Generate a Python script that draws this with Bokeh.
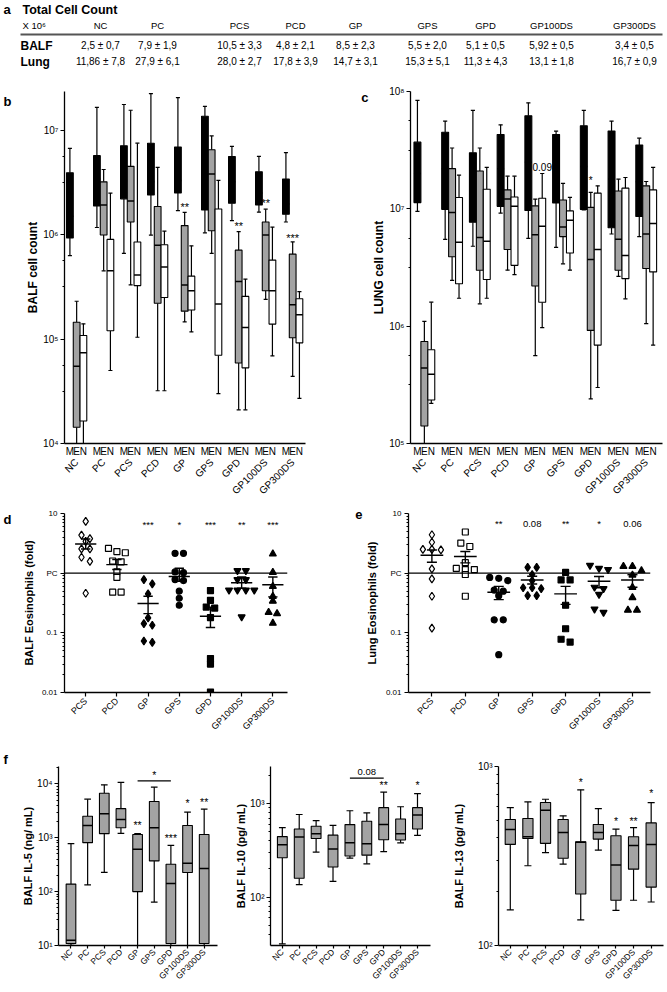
from math import pi, log10
from bokeh.plotting import figure
from bokeh.models import Range1d, FixedTicker, LinearAxis, LogAxis, Span, ColumnDataSource
from bokeh.layouts import column, row
from bokeh.embed import file_html
from bokeh.resources import INLINE
from bokeh.core.properties import value

FONT = "Liberation Sans"
GRAY = "#a3a3a3"

# ---------------- data ----------------
groups = ["NC", "PC", "PCS", "PCD", "GP", "GPS", "GPD", "GP100DS", "GP300DS"]
eos_groups = ["PCS", "PCD", "GP", "GPS", "GPD", "GP100DS", "GP300DS"]

balf_total = ["2,5 ± 0,7", "7,9 ± 1,9", "10,5 ± 3,3", "4,8 ± 2,1", "8,5 ± 2,3",
              "5,5 ± 2,0", "5,1 ± 0,5", "5,92 ± 0,5", "3,4 ± 0,5"]
lung_total = ["11,86 ± 7,8", "27,9 ± 6,1", "28,0 ± 2,7", "17,8 ± 3,9", "14,7 ± 3,1",
              "15,3 ± 5,1", "11,3 ± 4,3", "13,1 ± 1,8", "16,7 ± 0,9"]

# panel b : BALF cell count (M = black, E = gray, N = white)
balf_M_min = [6.3e5, 1.17e6, 6.6e5, 9.9e5, 1.7e6, 1.04e6, 1.36e6, 1.64e6, 1.32e6]
balf_M_q1 = [9.3e5, 1.88e6, 2.2e6, 2.4e6, 2.5e6, 1.72e6, 2.0e6, 1.92e6, 1.57e6]
balf_M_med = [1.5e6, 3.4e6, 3.3e6, 3.2e6, 3.3e6, 3.3e6, 3.2e6, 2.5e6, 1.96e6]
balf_M_q3 = [3.9e6, 5.7e6, 7.1e6, 7.5e6, 6.9e6, 1.36e7, 5.6e6, 4.0e6, 3.4e6]
balf_M_max = [6.7e6, 1.65e7, 1.76e7, 2.24e7, 2.05e7, 1.69e7, 7.0e6, 5.6e6, 6.1e6]

balf_E_min = [1e4, 4.5e5, 3.3e5, 3.2e4, 1.46e5, 6.6e5, 2.1e4, 2.4e5, 4.4e4]
balf_E_q1 = [1.43e4, 9.9e5, 1.32e6, 2.2e5, 1.85e5, 1.09e6, 5.9e4, 2.9e5, 1.03e5]
balf_E_med = [5.5e4, 1.92e6, 2.1e6, 7.9e5, 3.3e5, 3.8e6, 3.55e5, 9.9e5, 2.13e5]
balf_E_q3 = [1.45e5, 3.2e6, 4.5e6, 1.86e6, 1.22e6, 6.5e6, 7.1e5, 1.32e6, 6.5e5]
balf_E_max = [2.3e5, 4.2e6, 1.55e7, 4.4e6, 1.63e6, 8.8e6, 1.07e6, 1.75e6, 8.5e5]

balf_N_min = [1e4, 5.0e4, 1.04e5, 3.2e4, 1.17e5, 3.0e4, 2.1e4, 6.9e4, 2.7e4]
balf_N_q1 = [1.64e4, 1.2e5, 3.25e5, 2.5e5, 1.9e5, 7.0e4, 5.3e4, 1.39e5, 9.2e4]
balf_N_med = [7.4e4, 4.5e5, 4.1e5, 4.9e5, 2.9e5, 2.16e5, 1.29e5, 2.9e5, 1.71e5]
balf_N_q3 = [1.08e5, 9.0e5, 8.5e5, 8.0e5, 4.0e5, 1.76e6, 2.56e5, 5.7e5, 2.43e5]
balf_N_max = [1.4e5, 2.5e6, 7.5e6, 1.08e6, 7.8e5, 3.3e6, 3.75e5, 1.18e6, 2.85e5]

b_star_group = [4, 6, 7, 8]
b_star_text = ["**", "**", "**", "***"]
b_star_y = [1.83e6, 1.2e6, 2.0e6, 9.2e5]

# panel c : LUNG cell count
lung_M_min = [9.5e6, 5.5e6, 4.8e6, 9.2e6, 5.6e6, 4.7e6, 9.8e6, 6.1e6, 5.8e6]
lung_M_q1 = [1.13e7, 9.9e6, 7.7e6, 1.05e7, 9.7e6, 1.12e7, 9.9e6, 6.9e6, 8.6e6]
lung_M_med = [2.0e7, 2.2e7, 1.6e7, 2.2e7, 2.5e7, 2.2e7, 2.3e7, 1.8e7, 1.7e7]
lung_M_q3 = [3.7e7, 4.5e7, 3.0e7, 4.3e7, 6.2e7, 4.3e7, 5.1e7, 4.6e7, 3.5e7]
lung_M_max = [8.4e7, 5.6e7, 6.9e7, 5.2e7, 8.0e7, 4.6e7, 6.9e7, 5.6e7, 4.0e7]

lung_E_min = [1e5, 2.46e6, 1.55e6, 3.0e6, 5.6e5, 3.4e6, 2.4e5, 2.66e6, 1.05e6]
lung_E_q1 = [1.41e5, 3.9e6, 3.0e6, 4.5e6, 2.2e6, 5.8e6, 9.2e5, 3.0e6, 3.1e6]
lung_E_med = [4.4e5, 9.3e6, 5.7e6, 1.21e7, 6.0e6, 7.0e6, 3.7e6, 5.5e6, 6.1e6]
lung_E_q3 = [7.4e5, 2.2e7, 2.1e7, 1.45e7, 1.06e7, 1.19e7, 1.03e7, 1.42e7, 1.57e7]
lung_E_max = [1.1e6, 3.3e7, 3.3e7, 1.9e7, 1.21e7, 1.65e7, 1.38e7, 1.79e7, 1.71e7]

lung_N_min = [2.2e5, 1.73e6, 1.73e6, 2.75e6, 9.7e5, 3.0e6, 3.0e5, 1.71e6, 6.9e5]
lung_N_q1 = [2.35e5, 2.3e6, 2.5e6, 3.3e6, 1.6e6, 4.2e6, 6.9e5, 2.54e6, 2.9e6]
lung_N_med = [3.9e5, 5.2e6, 5.3e6, 1.05e7, 7.1e6, 8.0e6, 4.5e6, 4.0e6, 7.5e6]
lung_N_q3 = [6.3e5, 1.25e7, 1.47e7, 1.26e7, 1.23e7, 9.6e6, 1.36e7, 1.5e7, 1.45e7]
lung_N_max = [1.6e6, 1.94e7, 2.26e7, 1.9e7, 2.0e7, 1.25e7, 1.57e7, 1.85e7, 2.26e7]

c_annot_group = [4, 6]
c_annot_col = [2, 1]
c_annot_text = ["0.09", "*"]
c_annot_y = [2.29e7, 1.73e7]

# panel d : BALF eosinophils (fold of PC)
d_PCS = [7.4, 4.35, 3.8, 3.4, 2.55, 2.55, 1.85, 1.58, 0.46]
d_PCD = [2.6, 2.3, 2.2, 1.6, 1.55, 1.05, 0.85, 0.48, 0.48]
d_GP = [0.78, 0.66, 0.45, 0.178, 0.143, 0.134, 0.073, 0.069]
d_GPS = [2.15, 2.15, 1.05, 1.02, 0.78, 0.75, 0.5, 0.38, 0.29]
d_GPD = [0.51, 0.35, 0.27, 0.26, 0.18, 0.037, 0.030, 0.0102]
d_GP100DS = [1.1, 1.1, 0.78, 0.78, 0.52, 0.52, 0.52, 0.52, 0.185]
d_GP300DS = [2.1, 1.03, 0.6, 0.41, 0.34, 0.22, 0.21, 0.145]
d_mean = [3.08, 1.39, 0.31, 0.88, 0.19, 0.69, 0.64]
d_sem_hi = [3.73, 1.69, 0.41, 1.21, 0.27, 0.86, 0.86]
d_sem_lo = [2.54, 1.15, 0.21, 0.73, 0.123, 0.56, 0.40]
d_star_text = ["***", "*", "***", "**", "***"]
d_star_y = [6.5, 6.5, 6.5, 6.5, 6.5]

# panel e : Lung eosinophils (fold of PC)
e_PCS = [4.4, 3.3, 2.5, 2.5, 2.45, 1.18, 0.8, 0.41, 0.12]
e_PCD = [4.9, 3.2, 2.8, 1.5, 1.2, 1.15, 1.15, 0.95, 0.41]
e_GP = [0.85, 0.82, 0.75, 0.52, 0.5, 0.42, 0.165, 0.165, 0.043]
e_GPS = [1.25, 1.25, 0.95, 0.75, 0.57, 0.55, 0.57, 0.42, 0.42]
e_GPD = [1.03, 0.77, 0.77, 0.29, 0.117, 0.078, 0.07]
e_GP100DS = [1.35, 1.2, 1.15, 0.58, 0.55, 0.44, 0.25, 0.22]
e_GP300DS = [1.3, 1.3, 1.1, 0.93, 0.58, 0.39, 0.24, 0.24]
e_mean = [2.0, 1.9, 0.48, 0.77, 0.45, 0.73, 0.77]
e_sem_hi = [2.45, 2.31, 0.6, 0.89, 0.6, 0.88, 0.94]
e_sem_lo = [1.52, 1.49, 0.36, 0.66, 0.3, 0.57, 0.58]
e_star_text = ["**", "0.08", "**", "*", "0.06"]
e_star_y = [6.7, 6.7, 6.7, 6.7, 6.7]

# panel f : cytokines
il5_min = [10.1, 133, 227, 1.2e3, 10, 64, 10, 10, 10]
il5_q1 = [10.9, 810, 1.19e3, 1.53e3, 100, 372, 10.9, 227, 10.9]
il5_med = [12.5, 1.69e3, 2.8e3, 2.17e3, 610, 1.53e3, 142, 337, 269]
il5_q3 = [138, 2.5e3, 6.7e3, 3.47e3, 1.15e3, 4.7e3, 323, 1.69e3, 1.15e3]
il5_max = [776, 5.2e3, 9.6e3, 1.07e4, 1.19e3, 8.7e3, 723, 3.0e3, 3.4e3]
il5_star_x = [4, 6, 7, 8]
il5_star_text = ["**", "***", "*", "**"]
il5_star_y = [1.69e3, 1.0e3, 4.4e3, 4.7e3]
il5_bracket = (4, 6, 1.14e4, "*", 1.47e4)

il10_min = [31.5, 136, 303, 147, 261, 227, 307, 381, 457]
il10_q1 = [264, 159, 424, 210, 275, 281, 411, 408, 536]
il10_med = [364, 440, 475, 327, 381, 372, 597, 475, 755]
il10_q3 = [444, 536, 574, 460, 597, 649, 906, 684, 906]
il10_max = [553, 766, 658, 587, 840, 796, 1330, 927, 1280]
il10_star_x = [6, 8]
il10_star_text = ["**", "*"]
il10_star_y = [1.6e3, 1.6e3]
il10_bracket = (4, 6, 1.88e3, "0.08", 2.17e3)

il13_min = [158, 279, 330, 285, 139, 341, 157, 179, 175]
il13_q1 = [367, 396, 372, 307, 194, 393, 179, 267, 212]
il13_med = [445, 405, 570, 428, 377, 428, 282, 362, 367]
il13_q3 = [506, 512, 629, 506, 380, 474, 410, 405, 484]
il13_max = [589, 634, 656, 530, 741, 582, 447, 456, 629]
il13_star_x = [4, 6, 7, 8]
il13_star_text = ["*", "*", "**", "*"]
il13_star_y = [818, 494, 494, 714]


# ---------------- helpers ----------------
def base_fig(g):
    p = figure(width=g["W"], height=g["H"], x_range=Range1d(*g["xr"]), y_range=Range1d(*g["yr"]),
               y_axis_type="log", output_backend="svg", toolbar_location=None,
               min_border_left=g["FL"], min_border_right=g["W"] - g["FR"],
               min_border_top=g["FT"], min_border_bottom=g["H"] - g["FB"])
    p.xgrid.visible = False
    p.ygrid.visible = False
    p.outline_line_color = None
    p.background_fill_color = "white"
    p.border_fill_color = "white"
    return p


def style(ax, fs, tick_out=4, minor_out=2):
    ax.axis_line_color = "black"
    ax.axis_line_width = 1.3
    ax.major_tick_line_color = "black"
    ax.major_tick_line_width = 1.2
    ax.major_tick_in = 0
    ax.major_tick_out = tick_out
    ax.minor_tick_line_color = "black"
    ax.minor_tick_line_width = 1
    ax.minor_tick_in = 0
    ax.minor_tick_out = minor_out
    ax.major_label_text_font = FONT
    ax.major_label_text_font_size = fs
    ax.major_label_text_color = "black"
    ax.axis_label_text_font = FONT
    ax.axis_label_text_font_style = "bold"
    ax.axis_label_text_color = "black"


def fig_y(g, fy):
    y0, y1 = g["yr"]
    ly = log10(y1) - (fy - g["FT"]) / (g["FB"] - g["FT"]) * (log10(y1) - log10(y0))
    return 10 ** ly


def letter_axis(p, g, fy, t, standoff):
    yv = fig_y(g, fy)
    ax = LogAxis(ticker=FixedTicker(ticks=[yv]), major_label_overrides={yv: t},
                 axis_line_color=None, major_tick_line_color=None, minor_tick_line_color=None,
                 major_tick_out=0, minor_tick_out=0, major_label_standoff=standoff,
                 major_label_text_font=FONT, major_label_text_font_size="13px",
                 major_label_text_font_style="bold", major_label_text_color="black")
    p.add_layout(ax, "left")


def boxes(p, xs, lo, q1, med, q3, hi, w, fill, cap):
    src = ColumnDataSource(dict(x=xs, lo=lo, q1=q1, med=med, q3=q3, hi=hi,
                                bx0=[x - w / 2 for x in xs], bx1=[x + w / 2 for x in xs],
                                cx0=[x - cap / 2 for x in xs], cx1=[x + cap / 2 for x in xs]))
    kw = dict(source=src, line_color="black", line_width=1.2)
    p.segment(x0="x", y0="q3", x1="x", y1="hi", **kw)
    p.segment(x0="x", y0="lo", x1="x", y1="q1", **kw)
    p.segment(x0="cx0", y0="hi", x1="cx1", y1="hi", **kw)
    p.segment(x0="cx0", y0="lo", x1="cx1", y1="lo", **kw)
    p.vbar(x="x", width=w, bottom="q1", top="q3", fill_color=fill, line_color="black",
           line_width=1.1, source=src)
    p.segment(x0="bx0", y0="med", x1="bx1", y1="med", source=src, line_color="black", line_width=1.5)


def stars(p, xs, ys, txt, fs="10px"):
    p.text(x=xs, y=ys, text=txt, text_align="center", text_baseline="middle",
           text_font=value(FONT), text_font_size=fs, text_color="black")


def swarm(vals, center, step, thr):
    order = sorted(range(len(vals)), key=lambda i: -vals[i])
    rows = []
    for i in order:
        if rows and abs(log10(vals[rows[-1][0]]) - log10(vals[i])) < thr:
            rows[-1].append(i)
        else:
            rows.append([i])
    xs = [0.0] * len(vals)
    for r in rows:
        n = len(r)
        for k, i in enumerate(r):
            xs[i] = center + (k - (n - 1) / 2) * step
    return xs


def log_minor(e0, e1):
    return [k * 10 ** e for e in range(e0, e1) for k in range(2, 10)]


SUP = {1: "10¹", 2: "10²", 3: "10³", 4: "10⁴", 5: "10⁵", 6: "10⁶", 7: "10⁷", 8: "10⁸"}

# ---------------- table (panel a) ----------------
pt = figure(width=667, height=80, x_range=Range1d(0, 667), y_range=Range1d(80, 0),
            output_backend="svg", toolbar_location=None, min_border=0)
pt.axis.visible = False
pt.xgrid.visible = False
pt.ygrid.visible = False
pt.outline_line_color = None
col_x = [100, 157, 239, 295, 355, 427, 485, 551, 634]
pt.text(x=[3], y=[9], text=["a"], text_font=value(FONT), text_font_size="13px",
        text_font_style="bold", text_baseline="middle")
pt.text(x=[22], y=[9], text=["Total Cell Count"], text_font=value(FONT), text_font_size="12.5px",
        text_font_style="bold", text_baseline="middle")
pt.text(x=[22], y=[25], text=["X 10⁶"], text_font=value(FONT), text_font_size="9.5px",
        text_baseline="middle")
pt.text(x=col_x, y=[25] * 9, text=groups, text_font=value(FONT), text_font_size="9.5px",
        text_align="center", text_baseline="middle")
pt.segment(x0=[20], y0=[34], x1=[662], y1=[34], line_color="#555555", line_width=2)
pt.text(x=[20, 20], y=[45, 61], text=["BALF", "Lung"], text_font=value(FONT),
        text_font_size="12px", text_font_style="bold", text_baseline="middle")
pt.text(x=col_x, y=[45] * 9, text=balf_total, text_font=value(FONT), text_font_size="10px",
        text_align="center", text_baseline="middle")
pt.text(x=col_x, y=[61] * 9, text=lung_total, text_font=value(FONT), text_font_size="10px",
        text_align="center", text_baseline="middle")


# ---------------- panels b, c ----------------
def cell_panel(g, data, ylab, y_ticks, minor, lab_text, lab_fy, lab_standoff):
    p = base_fig(g)
    xM = [4 * i for i in range(9)]
    xE = [4 * i + 1 for i in range(9)]
    xN = [4 * i + 2 for i in range(9)]
    (Mn, Mq1, Mmd, Mq3, Mx), (En, Eq1, Emd, Eq3, Ex), (Nn, Nq1, Nmd, Nq3, Nx) = data
    boxes(p, xM, Mn, Mq1, Mmd, Mq3, Mx, 1.0, "black", 0.6)
    boxes(p, xE, En, Eq1, Emd, Eq3, Ex, 1.0, GRAY, 0.6)
    boxes(p, xN, Nn, Nq1, Nmd, Nq3, Nx, 1.0, "white", 0.6)
    ax1 = p.xaxis[0]
    style(ax1, "10px", tick_out=0, minor_out=0)
    ticks = [4 * i + j for i in range(9) for j in range(3)]
    ax1.ticker = FixedTicker(ticks=ticks)
    ax1.major_label_overrides = {t: "MEN"[t % 4] for t in ticks}
    ax1.major_tick_line_color = None
    ax1.minor_tick_line_color = None
    ax1.major_label_standoff = 2
    ax2 = LinearAxis(ticker=FixedTicker(ticks=xE),
                     major_label_overrides={x: gname for x, gname in zip(xE, groups)},
                     major_label_orientation=pi / 4, axis_line_color=None,
                     major_tick_line_color=None, minor_tick_line_color=None,
                     major_tick_out=0, minor_tick_out=0,
                     major_label_standoff=1, major_label_text_font=FONT,
                     major_label_text_font_size="10px", major_label_text_color="black")
    p.add_layout(ax2, "below")
    ya = p.yaxis[0]
    style(ya, "10px")
    ya.ticker = FixedTicker(ticks=y_ticks, minor_ticks=minor)
    ya.major_label_overrides = {t: SUP[int(round(log10(t)))] for t in y_ticks}
    ya.major_label_standoff = 2
    ya.axis_label = ylab
    ya.axis_label_text_font_size = "12px"
    ya.axis_label_standoff = 0
    letter_axis(p, g, lab_fy, lab_text, lab_standoff)
    return p


gb = dict(W=330, H=424, FL=58, FR=305, FT=7, FB=363, xr=(-0.8, 34.9), yr=(1e4, 10 ** 7.37))
pb = cell_panel(gb,
                ((balf_M_min, balf_M_q1, balf_M_med, balf_M_q3, balf_M_max),
                 (balf_E_min, balf_E_q1, balf_E_med, balf_E_q3, balf_E_max),
                 (balf_N_min, balf_N_q1, balf_N_med, balf_N_q3, balf_N_max)),
                "BALF cell count", [1e4, 1e5, 1e6, 1e7],
                [10 ** (e + f) for e in range(4, 7) for f in (0.5, 0.75)], "b", 17, 12)
stars(pb, [4 * gi + 1 for gi in b_star_group], b_star_y, b_star_text, "11px")

gc = dict(W=337, H=424, FL=80, FR=332, FT=11, FB=365, xr=(-1.0, 35.35), yr=(1e5, 1e8))
pc = cell_panel(gc,
                ((lung_M_min, lung_M_q1, lung_M_med, lung_M_q3, lung_M_max),
                 (lung_E_min, lung_E_q1, lung_E_med, lung_E_q3, lung_E_max),
                 (lung_N_min, lung_N_q1, lung_N_med, lung_N_q3, lung_N_max)),
                "LUNG cell count", [1e5, 1e6, 1e7, 1e8],
                [10 ** (e + f) for e in range(5, 8) for f in (0.5, 0.75)], "c", 17, 1)
stars(pc, [4 * gi + cj for gi, cj in zip(c_annot_group, c_annot_col)], c_annot_y, c_annot_text, "10px")


# ---------------- panels d, e ----------------
def eos_panel(g, series, means, hi, lo, markers, ylab, std2, lab, lab_fy, lab_standoff, st_text, st_y):
    p = base_fig(g)
    p.add_layout(Span(location=1, dimension="width", line_color="black", line_width=1.4))
    for i, (vals, (mk, filled, sz)) in enumerate(zip(series, markers)):
        xs = swarm(vals, i, 0.27, 0.08)
        p.scatter(x=xs, y=vals, marker=mk, size=sz, line_color="black", line_width=1.2,
                  fill_color="black" if filled else "white")
    xs = list(range(len(means)))
    p.segment(x0=[x - 0.34 for x in xs], y0=means, x1=[x + 0.34 for x in xs], y1=means,
              line_color="black", line_width=1.4)
    p.segment(x0=xs, y0=lo, x1=xs, y1=hi, line_color="black", line_width=1.4)
    p.segment(x0=[x - 0.15 for x in xs], y0=hi, x1=[x + 0.15 for x in xs], y1=hi,
              line_color="black", line_width=1.4)
    p.segment(x0=[x - 0.15 for x in xs], y0=lo, x1=[x + 0.15 for x in xs], y1=lo,
              line_color="black", line_width=1.4)
    stars(p, [2, 3, 4, 5, 6], st_y, st_text, "9.5px")
    xa = p.xaxis[0]
    style(xa, "9px")
    xa.ticker = FixedTicker(ticks=xs)
    xa.major_label_overrides = {x: gname for x, gname in zip(xs, eos_groups)}
    xa.major_label_orientation = pi / 4
    xa.major_label_standoff = 3
    ya = p.yaxis[0]
    style(ya, "8px")
    ya.ticker = FixedTicker(ticks=[0.01, 0.1, 1, 10], minor_ticks=log_minor(-2, 1))
    ya.major_label_overrides = {0.01: "0.01", 0.1: "0.1", 1: "PC", 10: "10"}
    ya.major_label_standoff = 3
    ya.axis_label = ylab
    ya.axis_label_text_font_size = "11px"
    ya.axis_label_standoff = std2
    letter_axis(p, g, lab_fy, lab, lab_standoff)
    return p


gd = dict(W=330, H=241, FL=59, FR=287, FT=7, FB=188, xr=(-0.68, 6.47), yr=(0.01, 10))
pdd = eos_panel(gd, [d_PCS, d_PCD, d_GP, d_GPS, d_GPD, d_GP100DS, d_GP300DS],
                d_mean, d_sem_hi, d_sem_lo,
                [("diamond", False, 8), ("square", False, 6), ("diamond", True, 8),
                 ("circle", True, 6), ("square", True, 6), ("inverted_triangle", True, 7),
                 ("triangle", True, 7)],
                "BALF Eosinophils (fold)", 4, "d", 13, 8, d_star_text, d_star_y)

ge = dict(W=337, H=241, FL=78, FR=320, FT=9, FB=188, xr=(-0.7, 6.54), yr=(0.01, 10))
pe = eos_panel(ge, [e_PCS, e_PCD, e_GP, e_GPS, e_GPD, e_GP100DS, e_GP300DS],
               e_mean, e_sem_hi, e_sem_lo,
               [("diamond", False, 8), ("square", False, 6), ("circle", True, 6),
                ("diamond", True, 8), ("square", True, 6), ("inverted_triangle", True, 7),
                ("triangle", True, 7)],
               "Lung Eosinophils (fold)", 5, "e", 10, 0, e_star_text, e_star_y)


# ---------------- panel f ----------------
def cyto_panel(g, data, ylab, y_ticks, minor, std2, st_x, st_y, st_text, bracket=None):
    p = base_fig(g)
    xs = list(range(9))
    mn, q1, md, q3, mx = data
    boxes(p, xs, mn, q1, md, q3, mx, 0.58, GRAY, 0.4)
    stars(p, st_x, st_y, st_text, "10.5px")
    if bracket is not None:
        bx0, bx1, by, bt, bty = bracket
        p.segment(x0=[bx0], y0=[by], x1=[bx1], y1=[by], line_color="black", line_width=1.3)
        stars(p, [(bx0 + bx1) / 2], [bty], [bt], "10.5px" if bt.startswith("*") else "9.5px")
    xa = p.xaxis[0]
    style(xa, "8.5px", tick_out=3)
    xa.ticker = FixedTicker(ticks=xs)
    xa.major_label_overrides = {x: gname for x, gname in zip(xs, groups)}
    xa.major_label_orientation = pi / 4
    xa.major_label_standoff = 2
    ya = p.yaxis[0]
    style(ya, "10px")
    ya.ticker = FixedTicker(ticks=y_ticks, minor_ticks=minor)
    ya.major_label_overrides = {t: SUP[int(round(log10(t)))] for t in y_ticks}
    ya.major_label_standoff = 2
    ya.axis_label = ylab
    ya.axis_label_text_font_size = "11px"
    ya.axis_label_standoff = std2
    return p


gf1 = dict(W=220, H=245, FL=58, FR=217, FT=20, FB=200, xr=(-0.75, 8.8), yr=(10, 2.1e4))
pf1 = cyto_panel(gf1, (il5_min, il5_q1, il5_med, il5_q3, il5_max), "BALF IL-5 (ng/ mL)",
                 [10, 100, 1000, 10000], log_minor(1, 5), 0,
                 il5_star_x, il5_star_y, il5_star_text, il5_bracket)
pf1.title.text = "f"
pf1.title.align = "left"
pf1.title.offset = -55
pf1.title.standoff = 0
pf1.title.text_font = FONT
pf1.title.text_font_size = "13px"
pf1.title.text_font_style = "bold"
pf1.title.text_color = "black"

gf2 = dict(W=220, H=245, FL=50, FR=210, FT=7, FB=200, xr=(-0.7, 8.77), yr=(30.3, 2500))
pf2 = cyto_panel(gf2, (il10_min, il10_q1, il10_med, il10_q3, il10_max), "BALF IL-10 (pg/ mL)",
                 [100, 1000], log_minor(1, 4), 0,
                 il10_star_x, il10_star_y, il10_star_text, il10_bracket)

gf3 = dict(W=227, H=245, FL=58, FR=223, FT=21, FB=201, xr=(-0.67, 8.7), yr=(100, 1000))
pf3 = cyto_panel(gf3, (il13_min, il13_q1, il13_med, il13_q3, il13_max), "BALF IL-13 (pg/ mL)",
                 [100, 1000], log_minor(2, 3), 10,
                 il13_star_x, il13_star_y, il13_star_text)

layout = column(pt, row(pb, pc), row(pdd, pe), row(pf1, pf2, pf3))
open("out.html", "w").write(file_html(layout, INLINE))
